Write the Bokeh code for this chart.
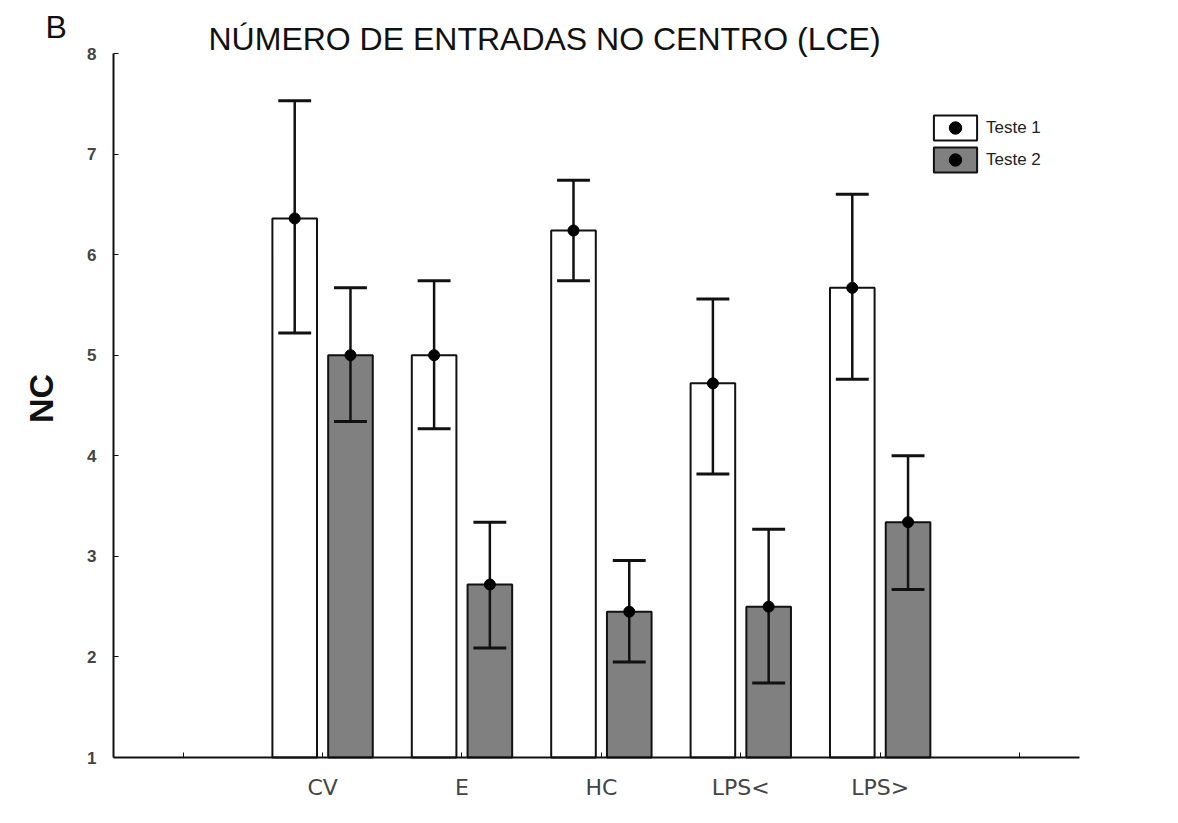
import math
from bokeh.plotting import figure
from bokeh.models import (ColumnDataSource, FixedTicker, Label, Legend, LegendItem, Range1d)
from bokeh.embed import file_html
from bokeh.resources import INLINE

# ---- data ----
groups = ["CV", "E", "HC", "LPS<", "LPS>"]
teste1_mean = [6.36, 5.00, 6.24, 4.72, 5.67]
teste1_upper = [7.53, 5.74, 6.74, 5.56, 6.60]
teste1_lower = [5.22, 4.27, 5.74, 3.82, 4.76]
teste2_mean = [5.00, 2.72, 2.45, 2.50, 3.34]
teste2_upper = [5.67, 3.34, 2.96, 3.27, 4.00]
teste2_lower = [4.34, 2.09, 1.95, 1.74, 2.67]
y_ticks = [1, 2, 3, 4, 5, 6, 7, 8]
series_names = ["Teste 1", "Teste 2"]

# ---- layout constants (pixels) ----
W, H = 1170, 815
AX_LEFT, AX_RIGHT, AX_TOP, AX_BOTTOM = 113, 1079, 53, 757
X_MIN, X_MAX = 0.5, 7.43
Y_MIN, Y_MAX = 1, 8
ppx = (AX_RIGHT - AX_LEFT) / (X_MAX - X_MIN)
ppy = (AX_BOTTOM - AX_TOP) / (Y_MAX - Y_MIN)
x_start = X_MIN - AX_LEFT / ppx
x_end = X_MIN + (W - AX_LEFT) / ppx
y_end = Y_MIN + AX_BOTTOM / ppy
y_start = Y_MIN - (H - AX_BOTTOM) / ppy

pos = [i + 2 for i in range(len(groups))]
all_ticks = [1] + pos + [pos[-1] + 1]
offset = 0.2
bar_w = 0.32
cap_half = 0.118

p = figure(width=W, height=H, output_backend="svg", toolbar_location=None, title=None,
           x_range=Range1d(x_start, x_end), y_range=Range1d(y_start, y_end),
           min_border=0)
p.outline_line_color = None
p.xgrid.visible = False
p.ygrid.visible = False
p.background_fill_color = "white"
p.border_fill_color = "white"

series = [
    (teste1_mean, teste1_lower, teste1_upper, -offset, "white"),
    (teste2_mean, teste2_lower, teste2_upper, offset, "#808080"),
]
legend_items = []
for name, (m, lo, hi, off, fill) in zip(series_names, series):
    xs = [x + off for x in pos]
    src = ColumnDataSource(dict(x=xs, top=m, lo=lo, hi=hi,
                                x0=[x - cap_half for x in xs],
                                x1=[x + cap_half for x in xs]))
    rb = p.vbar(x="x", top="top", bottom=Y_MIN, width=bar_w, source=src,
                fill_color=fill, line_color="#111111", line_width=2)
    p.segment(x0="x", x1="x", y0="lo", y1="hi", source=src,
              line_color="#111111", line_width=2.5)
    p.segment(x0="x0", x1="x1", y0="hi", y1="hi", source=src,
              line_color="#111111", line_width=3)
    p.segment(x0="x0", x1="x1", y0="lo", y1="lo", source=src,
              line_color="#111111", line_width=3)
    rd = p.scatter(x="x", y="top", source=src, marker="circle", size=11,
                   fill_color="black", line_color="black")
    legend_items.append(LegendItem(label=name, renderers=[rb, rd]))

# axes (drawn inside the frame at fixed locations)
xa = p.xaxis[0]
xa.fixed_location = Y_MIN
xa.bounds = (X_MIN, X_MAX)
xa.ticker = FixedTicker(ticks=all_ticks)
overrides = {t: "" for t in all_ticks}
for g, x in zip(groups, pos):
    overrides[x] = g
xa.major_label_overrides = overrides
xa.major_tick_in = 5
xa.major_tick_out = 0
xa.minor_tick_line_color = None
xa.axis_line_width = 2
xa.axis_line_color = "#111111"
xa.major_tick_line_color = "#111111"
xa.major_label_text_font = "DejaVu Sans"
xa.major_label_text_font_size = "22px"
xa.major_label_text_color = "#444444"
xa.major_label_standoff = 17

ya = p.yaxis[0]
ya.fixed_location = X_MIN
ya.bounds = (Y_MIN, Y_MAX)
ya.ticker = FixedTicker(ticks=y_ticks)
ya.major_tick_in = 5
ya.major_tick_out = 0
ya.minor_tick_line_color = None
ya.axis_line_width = 2
ya.axis_line_color = "#111111"
ya.major_tick_line_color = "#111111"
ya.major_label_text_font = "Liberation Sans"
ya.major_label_text_font_style = "bold"
ya.major_label_text_font_size = "17px"
ya.major_label_text_color = "#444444"
ya.major_label_standoff = 17

# legend
legend = Legend(items=legend_items, location=(928, H - 175), padding=0, margin=0,
                spacing=1, glyph_width=54, glyph_height=31, label_standoff=4,
                label_text_font="Liberation Sans", label_text_font_size="17px",
                label_text_color="#222222", border_line_alpha=0,
                background_fill_alpha=0)
p.add_layout(legend, "center")

# texts
p.add_layout(Label(x=208, y=H - 38, x_units="screen", y_units="screen",
                   text="NÚMERO DE ENTRADAS NO CENTRO (LCE)", text_font="Liberation Sans",
                   text_font_size="32px", text_color="#111111", text_baseline="middle",
                   text_align="left"))
p.add_layout(Label(x=45, y=H - 26, x_units="screen", y_units="screen", text="B",
                   text_font="Liberation Sans", text_font_size="32px",
                   text_color="#111111", text_baseline="middle", text_align="left"))
p.add_layout(Label(x=40, y=H - 398, x_units="screen", y_units="screen", text="NC",
                   text_font="Liberation Sans", text_font_style="bold",
                   text_font_size="34px", text_color="#111111", angle=math.pi / 2,
                   text_baseline="middle", text_align="center"))

open("out.html", "w").write(file_html(p, INLINE))
